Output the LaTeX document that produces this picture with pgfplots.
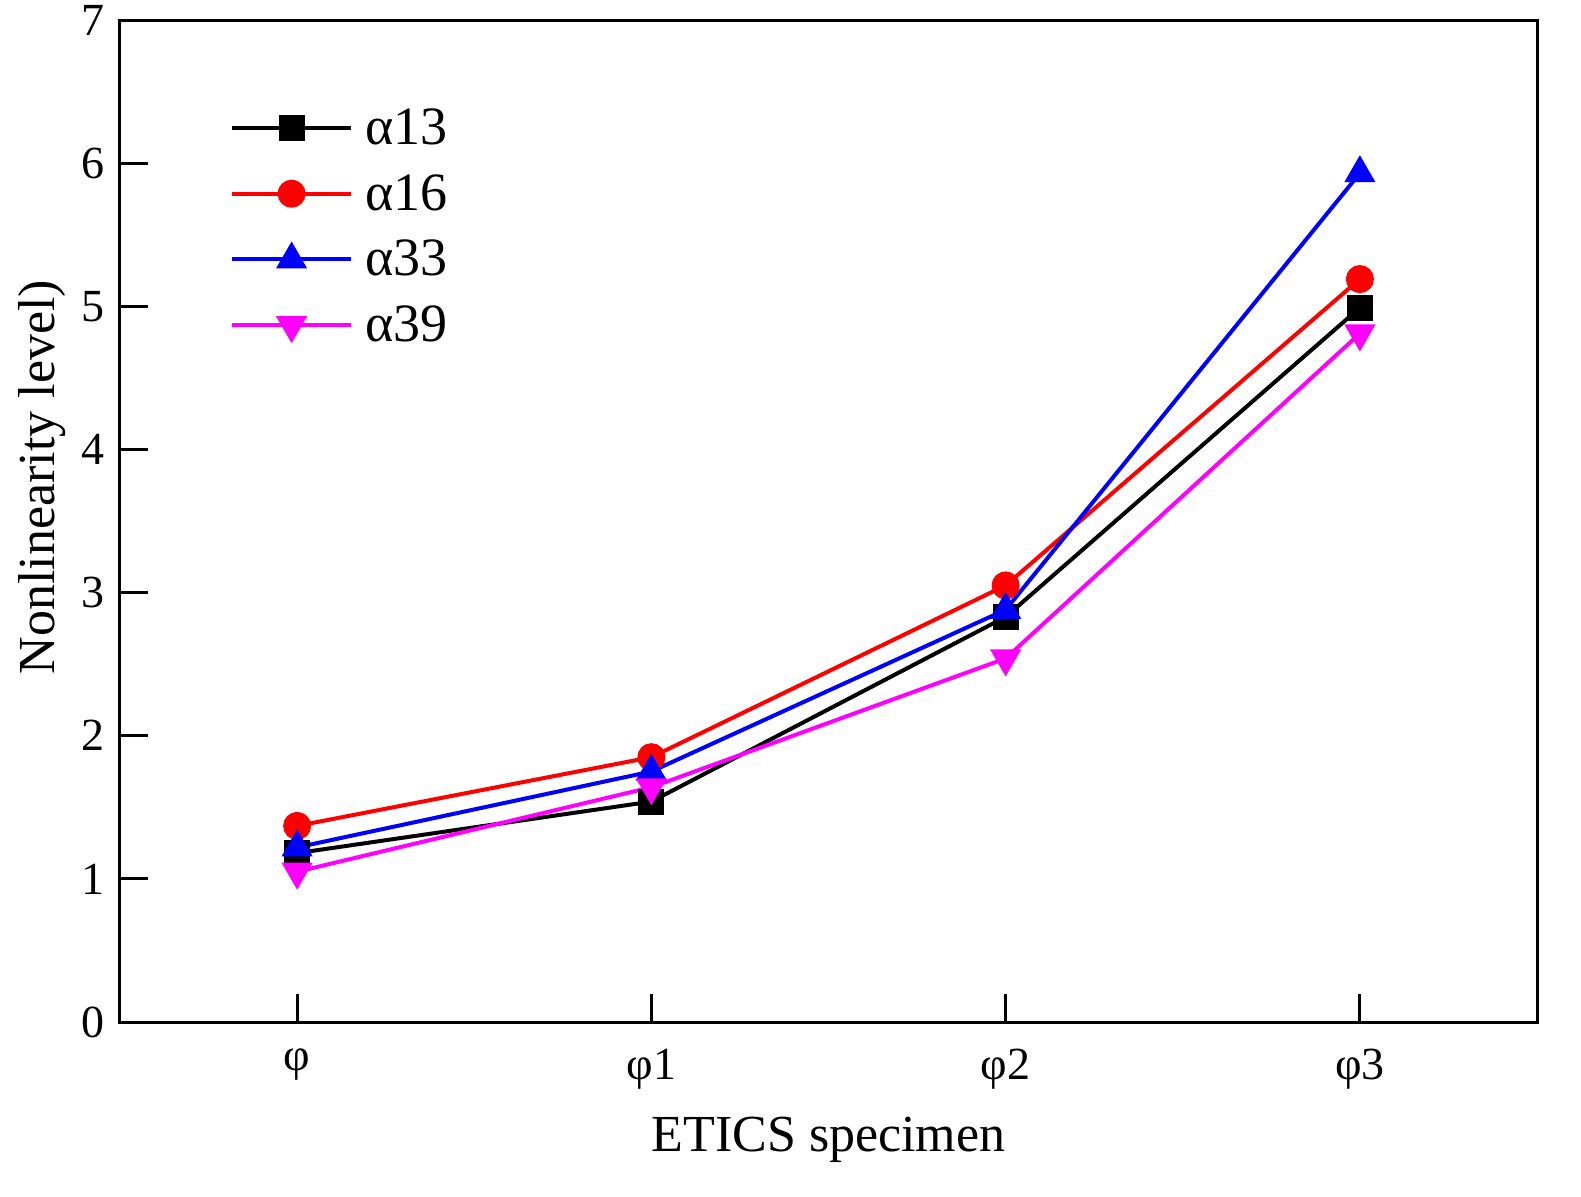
\documentclass[border=0pt]{standalone}
\usepackage{pgfplots}
\pgfplotsset{compat=1.18}
\usepackage{fontspec}
\setmainfont{Liberation Serif}
\definecolor{mymag}{RGB}{255,0,255}
\definecolor{myred}{RGB}{255,0,0}
\definecolor{myblue}{RGB}{0,0,255}
\begin{document}
\begin{tikzpicture}
\begin{axis}[
  scale only axis,
  width=708.5pt, height=501pt,
  xmin=-0.5, xmax=3.5, ymin=0, ymax=7,
  xtick={0,1,2,3},
  xticklabels={φ,φ1,φ2,φ3},
  ytick={0,1,2,3,4,5,6,7},
  tick align=inside,
  xtick pos=bottom, ytick pos=left,
  major tick length=14pt,
  tick style={line width=1.5pt, black},
  axis line style={line width=1.5pt},
  /pgf/number format/assume math mode=true,
  ticklabel style={font=\fontsize{23}{26}\selectfont},
  xticklabel style={yshift=-10pt},
  yticklabel style={xshift=-4pt},
  xlabel={ETICS specimen},
  ylabel={Nonlinearity level)},
  label style={font=\fontsize{26}{30}\selectfont},
  xlabel style={at={(axis description cs:0.5,0)}, anchor=center, yshift=-59pt},
  ylabel style={at={(axis description cs:-0.055,0.544)}, anchor=center},
  legend style={draw=none, fill=none, at={(axis description cs:0.073,0.92)}, anchor=north west,
     font=\fontsize{27}{30}\selectfont, row sep=9.5pt, /tikz/every odd column/.append style={column sep=4pt}},
  legend cell align=left,
  legend image code/.code={
     \draw[mark repeat=2,mark phase=2,#1] plot coordinates {(0cm,0cm) (1.05cm,0cm) (2.1cm,0cm)};
  },
  every axis plot/.append style={line width=2pt},
]
\addplot[black, mark=square*, mark size=5.5pt, mark options={solid}] coordinates {(0,1.18) (1,1.54) (2,2.83) (3,4.99)};
\addlegendentry{α13}
\addplot[myred, mark=*, mark size=6pt] coordinates {(0,1.37) (1,1.85) (2,3.05) (3,5.19)};
\addlegendentry{α16}
\addplot[myblue, mark=triangle*, mark size=7pt] coordinates {(0,1.22) (1,1.75) (2,2.88) (3,5.93)};
\addlegendentry{α33}
\addplot[mymag, mark=triangle*, mark size=7pt, mark options={rotate=180}] coordinates {(0,1.05) (1,1.64) (2,2.54) (3,4.81)};
\addlegendentry{α39}
\end{axis}
\pgfresetboundingbox
\path ([shift={(-60pt,-87pt)}]current axis.south west) rectangle ([shift={(22pt,10pt)}]current axis.north east);
\end{tikzpicture}
\end{document}
